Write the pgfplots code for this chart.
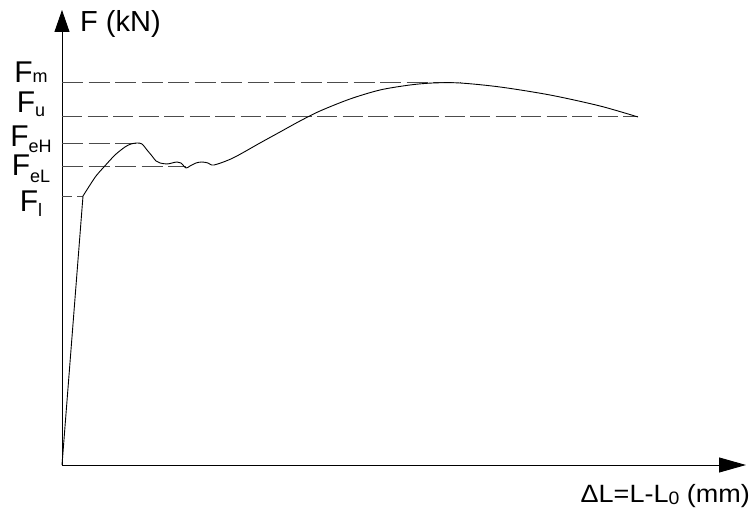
\documentclass[border=0pt]{standalone}
\usepackage{pgfplots}
\pgfplotsset{compat=1.18}
\usepackage{fontspec}
\setmainfont{Liberation Sans}
\usetikzlibrary{arrows.meta}
\newcommand\FF[2]{F\raisebox{-#2pt}{\fontsize{18}{18}\selectfont #1}}
\begin{document}
\begin{tikzpicture}
\path[use as bounding box] (0,0) rectangle (751pt,510pt);
\begin{axis}[
  at={(62pt,45pt)}, anchor=origin,
  scale only axis, width=684pt, height=455pt,
  xmin=0, xmax=684, ymin=0, ymax=455,
  axis lines=left,
  x axis line style={line width=0.9pt, -{Triangle[length=27pt,width=15pt]}},
  y axis line style={line width=0.9pt, -{Triangle[length=22pt,width=15pt]}},
  xtick=\empty, ytick=\empty,
  clip=false,
]
% dashed levels
\addplot[gray!60!black, line width=0.8pt, dash pattern=on 21pt off 5.5pt] coordinates {(0,383) (398,383)};
\addplot[gray!60!black, line width=0.8pt, dash pattern=on 20pt off 5.5pt] coordinates {(0,349) (576,349)};
\addplot[gray!60!black, line width=0.8pt, dash pattern=on 21pt off 5.5pt] coordinates {(0,322) (75,322)};
\addplot[gray!60!black, line width=0.8pt, dash pattern=on 21pt off 5.5pt] coordinates {(0,299) (124,299)};
\addplot[gray!60!black, line width=0.8pt, dash pattern=on 10pt off 5pt] coordinates {(0,269) (21,269)};
% elastic part
\addplot[black, line width=0.9pt] coordinates {(0,0) (21,269)};
% curve
\addplot[black, line width=0.9pt, smooth, tension=0.5] coordinates {
(21,269) (28,280) (34,289) (41,297) (53,310) (63,318) (69,321) (75,322)
(80,321) (85,315) (90,309) (94,304) (98,302) (105,301) (110,302) (115,303)
(119,302) (124,297) (128,299) (134,302) (140,303) (146,302) (152,300)
(171,307) (198,322) (218,333) (238,344) (258,354) (288,366) (318,375)
(348,380) (371,382) (398,382) (438,378) (488,370) (538,359) (576,348)};
% labels
\node[anchor=base, font=\fontsize{30}{32}\selectfont] at (axis cs:-31,382) {\FF{m}{0}};
\node[anchor=base, font=\fontsize{30}{32}\selectfont] at (axis cs:-31,352) {\FF{u}{4}};
\node[anchor=base, font=\fontsize{30}{32}\selectfont] at (axis cs:-31,318) {\FF{eH}{6}};
\node[anchor=base, font=\fontsize{30}{32}\selectfont] at (axis cs:-31,289) {\FF{eL}{7}};
\node[anchor=base, font=\fontsize{30}{32}\selectfont] at (axis cs:-31,253) {\FF{l}{5}};
\node[anchor=west, font=\fontsize{29}{30}\selectfont, inner sep=0pt] at (axis cs:18,441) {F (kN)};
\node[anchor=east, inner sep=0pt, font=\fontsize{25}{30}\selectfont] at (axis cs:688,-31) {\scalebox{1.08}[1]{ΔL=L-L\raisebox{-2pt}{\fontsize{18}{18}\selectfont 0} (mm)}};
\end{axis}
\end{tikzpicture}
\end{document}
